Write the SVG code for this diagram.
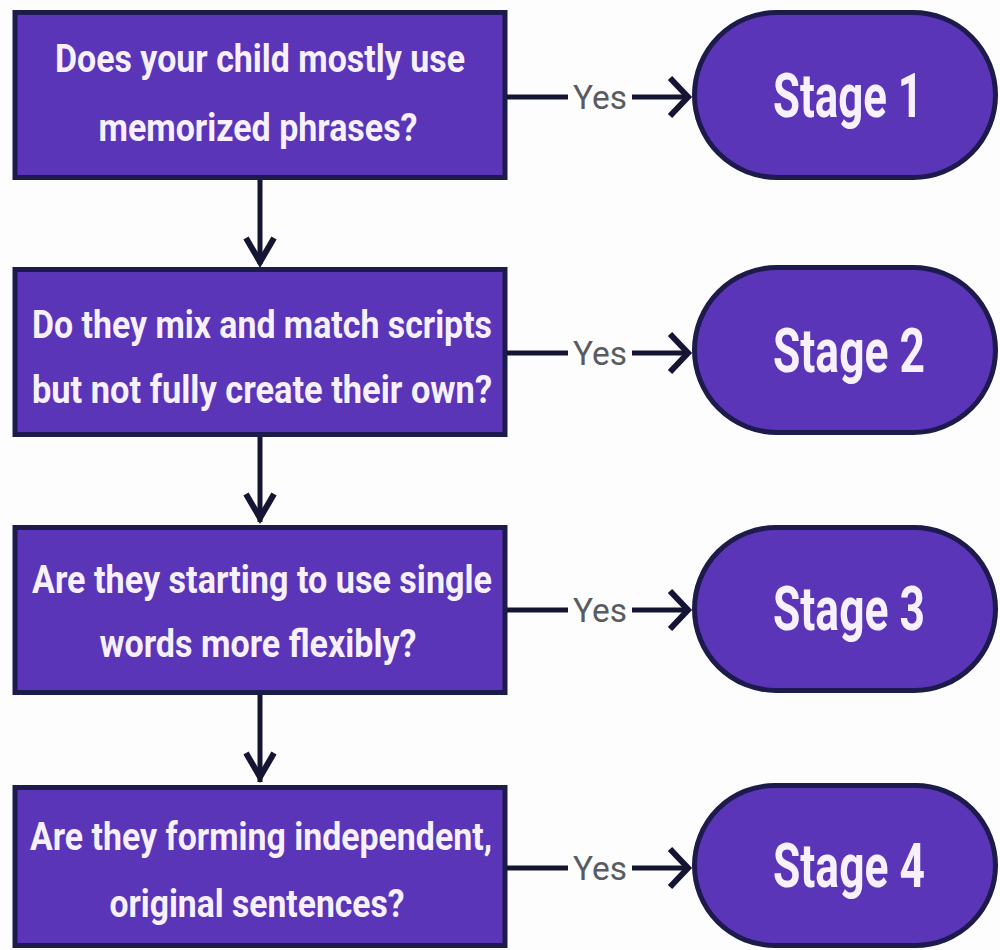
<svg xmlns="http://www.w3.org/2000/svg" width="1000" height="950" viewBox="0 0 1000 950">
<style>
.q{fill:#5b35b8;stroke:#1d1a4c;stroke-width:5}
.st{fill:#5b35b8;stroke:#1d1a4c;stroke-width:5}
.qt{font-family:Roboto,"Liberation Sans",sans-serif;font-weight:700;font-size:39px;fill:#f7f1ff;text-anchor:middle}
.sl{font-family:Roboto,"Liberation Sans",sans-serif;font-weight:700;font-size:62px;fill:#f7f1ff;text-anchor:middle}
.yes{font-family:Roboto,"Liberation Sans",sans-serif;font-weight:400;font-size:33px;fill:#585c62;text-anchor:middle}
.ln{stroke:#141533;stroke-width:5;fill:none}
.hd{stroke:#141533;stroke-width:6;fill:none;stroke-linejoin:miter;stroke-linecap:butt}
</style>
<rect width="1000" height="950" fill="#fdfdfe"/>
<g id="q1">
<rect class="q" x="15" y="12.5" width="490" height="165"/>
<text class="qt" x="260" y="72" textLength="410" lengthAdjust="spacingAndGlyphs">Does your child mostly use</text>
<text class="qt" x="258" y="141" textLength="319" lengthAdjust="spacingAndGlyphs">memorized phrases?</text>
</g>
<g id="q2">
<rect class="q" x="15" y="269.5" width="490" height="165"/>
<text class="qt" x="262" y="338" textLength="460" lengthAdjust="spacingAndGlyphs">Do they mix and match scripts</text>
<text class="qt" x="262" y="403" textLength="460" lengthAdjust="spacingAndGlyphs">but not fully create their own?</text>
</g>
<g id="q3">
<rect class="q" x="15" y="527.5" width="490" height="165"/>
<text class="qt" x="262" y="593" textLength="460" lengthAdjust="spacingAndGlyphs">Are they starting to use single</text>
<text class="qt" x="258" y="657" textLength="317" lengthAdjust="spacingAndGlyphs">words more flexibly?</text>
</g>
<g id="q4">
<rect class="q" x="15" y="787.5" width="490" height="158"/>
<text class="qt" x="261" y="850" textLength="462" lengthAdjust="spacingAndGlyphs">Are they forming independent,</text>
<text class="qt" x="257" y="917" textLength="295" lengthAdjust="spacingAndGlyphs">original sentences?</text>
</g>
<g id="s1">
<rect class="st" x="694.5" y="12.5" width="301" height="165" rx="82.5"/>
<text class="sl" x="848" y="117" textLength="150" lengthAdjust="spacingAndGlyphs">Stage 1</text>
</g>
<g id="s2">
<rect class="st" x="694.5" y="267.5" width="301" height="165" rx="82.5"/>
<text class="sl" x="849" y="372" textLength="152" lengthAdjust="spacingAndGlyphs">Stage 2</text>
</g>
<g id="s3">
<rect class="st" x="694.5" y="527.5" width="301" height="163" rx="81.5"/>
<text class="sl" x="849" y="630" textLength="152" lengthAdjust="spacingAndGlyphs">Stage 3</text>
</g>
<g id="s4">
<rect class="st" x="694.5" y="785.5" width="301" height="160" rx="80"/>
<text class="sl" x="849" y="887" textLength="152" lengthAdjust="spacingAndGlyphs">Stage 4</text>
</g>
<g id="connectors">
<line class="ln" x1="260" y1="180" x2="260" y2="264"/>
<path class="hd" d="M246,238 L260,262 L274,238"/>
<line class="ln" x1="260" y1="437" x2="260" y2="522"/>
<path class="hd" d="M246,494 L260,518 L274,494"/>
<line class="ln" x1="260" y1="695" x2="260" y2="782"/>
<path class="hd" d="M246,753 L260,777 L274,753"/>

<line class="ln" x1="507" y1="97" x2="568" y2="97"/>
<line class="ln" x1="632" y1="97" x2="688" y2="97"/>
<path class="hd" d="M670,78 L688,97 L670,116"/>
<text class="yes" x="600" y="109" textLength="54" lengthAdjust="spacingAndGlyphs">Yes</text>

<line class="ln" x1="507" y1="353" x2="568" y2="353"/>
<line class="ln" x1="632" y1="353" x2="688" y2="353"/>
<path class="hd" d="M670,334 L688,353 L670,372"/>
<text class="yes" x="600" y="365" textLength="54" lengthAdjust="spacingAndGlyphs">Yes</text>

<line class="ln" x1="507" y1="610" x2="568" y2="610"/>
<line class="ln" x1="632" y1="610" x2="688" y2="610"/>
<path class="hd" d="M670,591 L688,610 L670,629"/>
<text class="yes" x="600" y="622" textLength="54" lengthAdjust="spacingAndGlyphs">Yes</text>

<line class="ln" x1="507" y1="868" x2="568" y2="868"/>
<line class="ln" x1="632" y1="868" x2="688" y2="868"/>
<path class="hd" d="M670,849 L688,868 L670,887"/>
<text class="yes" x="600" y="880" textLength="54" lengthAdjust="spacingAndGlyphs">Yes</text>
</g>
</svg>
